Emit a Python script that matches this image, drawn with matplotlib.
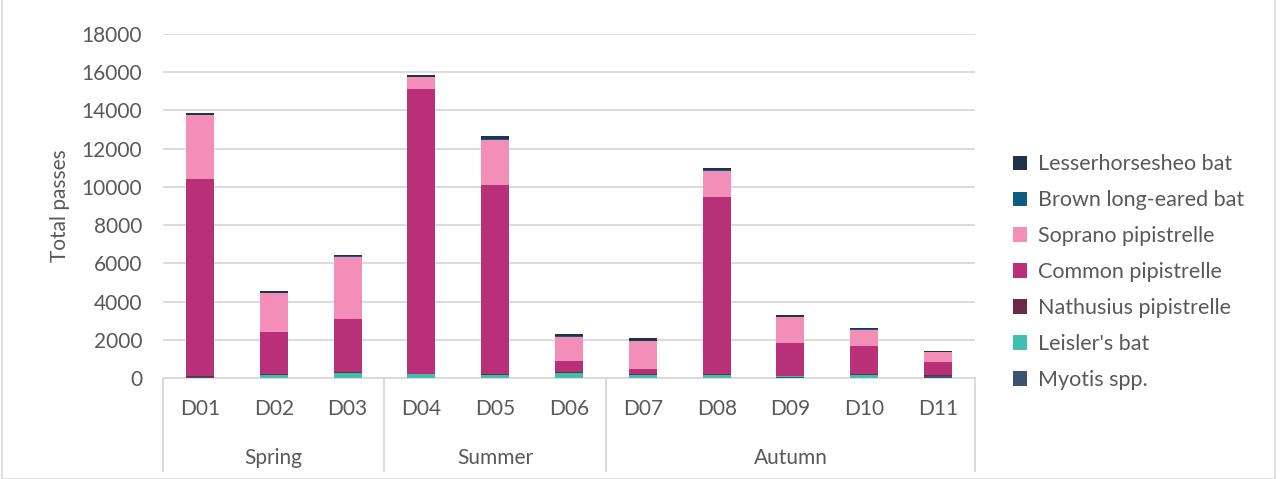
import matplotlib.pyplot as plt
from matplotlib.patches import Rectangle
import numpy as np

plt.rcParams['font.family'] = ['Lato', 'DejaVu Sans']

sites = ["D01", "D02", "D03", "D04", "D05", "D06", "D07", "D08", "D09", "D10", "D11"]
seasons = ["Spring", "Summer", "Autumn"]
season_sizes = [3, 3, 5]

# stacking order bottom -> top
myotis = [50, 20, 20, 20, 20, 20, 20, 20, 60, 20, 100]
leisler = [20, 150, 250, 170, 150, 260, 150, 150, 20, 150, 20]
nathusius = [20, 30, 20, 20, 20, 20, 20, 60, 20, 20, 60]
common = [10300, 2210, 2800, 14930, 9910, 610, 300, 9220, 1750, 1490, 660]
soprano = [3360, 2040, 3260, 600, 2370, 1260, 1430, 1400, 1330, 850, 510]
brown_long_eared = [20, 20, 20, 20, 40, 20, 20, 20, 20, 20, 20]
lesser_horseshoe = [80, 80, 80, 100, 150, 100, 160, 130, 100, 70, 60]

series = [
    ("Myotis spp.", myotis, "#3B5273"),
    ("Leisler's bat", leisler, "#3FBFAD"),
    ("Nathusius pipistrelle", nathusius, "#6B2A48"),
    ("Common pipistrelle", common, "#B83077"),
    ("Soprano pipistrelle", soprano, "#F28EB8"),
    ("Brown long-eared bat", brown_long_eared, "#0B5D83"),
    ("Lesserhorsesheo bat", lesser_horseshoe, "#1F3349"),
]

txt = "#595959"
fig = plt.figure(figsize=(12.8, 4.79), dpi=100)
ax = fig.add_axes([163 / 1280, 1 - 378 / 479, 812 / 1280, 344 / 479])

x = np.arange(len(sites))
bottom = np.zeros(len(sites))
handles = []
for name, vals, col in series:
    b = ax.bar(x, vals, 0.38, bottom=bottom, color=col, label=name, zorder=3)
    handles.append(b)
    bottom += np.array(vals)

ax.set_xlim(-0.5, len(sites) - 0.5)
ax.set_ylim(0, 18000)
ax.set_yticks(range(0, 18001, 2000))
ax.tick_params(axis='y', length=0, labelsize=15, labelcolor=txt, pad=15)
ax.yaxis.grid(True, color="#d9d9d9", linewidth=1.3, zorder=0)
for s in ["top", "right", "left"]:
    ax.spines[s].set_visible(False)
ax.spines["bottom"].set_color("#d9d9d9")
ax.spines["bottom"].set_linewidth(1.3)
ax.set_xticks(x)
ax.set_xticklabels(sites)
ax.tick_params(axis='x', length=0, labelsize=15, labelcolor=txt, pad=15)
ax.set_ylabel("Total passes", fontsize=15, color=txt, labelpad=8)

# season group labels and dividers
start = 0
for season, n in zip(seasons, season_sizes):
    ax.text(start - 0.5 + n / 2, -0.233, season, transform=ax.get_xaxis_transform(),
            ha="center", va="center", fontsize=15, color=txt)
    start += n
edges = np.concatenate([[0], np.cumsum(season_sizes)]) - 0.5
for e in edges:
    ax.plot([e, e], [0, -0.27], transform=ax.get_xaxis_transform(),
            color="#d9d9d9", linewidth=1.3, clip_on=False)

leg = fig.legend(handles[::-1], [s[0] for s in series][::-1], loc="upper left",
                 bbox_to_anchor=(994 / 1280, 1 - 135 / 479), frameon=False,
                 fontsize=15.5, labelcolor=txt, handlelength=0.65, handleheight=0.65,
                 handletextpad=0.5, labelspacing=0.74)

fig.patches.append(Rectangle((2 / 1280, 0), 1273 / 1280, 1.2, transform=fig.transFigure,
                             fill=False, edgecolor="#d9d9d9", linewidth=1.2))

fig.savefig("out.png", dpi=100)
